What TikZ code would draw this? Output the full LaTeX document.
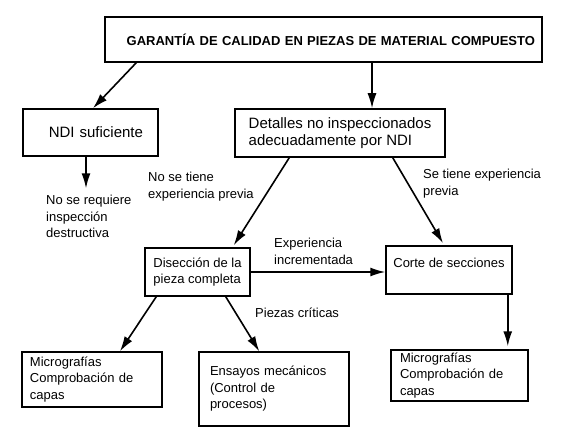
\documentclass[tikz,border=0pt]{standalone}
\usepackage{fontspec}
\setmainfont{Liberation Sans}
\usetikzlibrary{arrows.meta,positioning}

\begin{document}
\begin{tikzpicture}[x=1bp,y=-1bp,
		caja/.style={draw, line width=1.5bp, inner ysep=0pt, font=\fontsize{13bp}{16.5bp}\selectfont},
		nota/.style={inner sep=0pt, anchor=north west, align=left, font=\fontsize{13bp}{16.5bp}\selectfont},
		flecha/.style={line width=1.6bp, -{Latex[length=15bp,width=9bp]}}]
		\useasboundingbox (0,0) rectangle (567,436);
		% cajas
		\node[caja, minimum width=437bp, minimum height=45bp, align=right, text width=423bp, inner xsep=7bp, font=\bfseries\fontsize{13bp}{16bp}\selectfont] (titulo) at (323.5,39.5) {GARANTÍA DE CALIDAD EN PIEZAS DE MATERIAL COMPUESTO};
		\node[caja, minimum width=135bp, minimum height=47bp, align=right, text width=105bp, inner xsep=15bp, font=\fontsize{15bp}{17bp}\selectfont] (ndi) at (90.5,132.5) {NDI suficiente};
		\node[caja, minimum width=210bp, minimum height=48bp, align=left, font=\fontsize{15bp}{17bp}\selectfont] (detalles) at (340,133) {Detalles no inspeccionados\\adecuadamente por NDI};
		\node[caja, minimum width=105bp, minimum height=48bp, align=left] (disec) at (197.5,272) {Disección de la\\pieza completa};
		\node[caja, minimum width=126bp, minimum height=48bp, text depth=15bp] (corte) at (449,270) {Corte de secciones};
		\node[caja, minimum width=140bp, minimum height=55bp, align=left, text width=124bp, inner xsep=8bp] (micro1) at (92,379.5) {Micrografías\\Comprobación de\\capas};
		\node[caja, minimum width=150bp, minimum height=74bp, align=left, text width=128bp, inner xsep=11bp] (ensayos) at (274,389) {Ensayos mecánicos\\(Control de\\procesos)};
		\node[caja, minimum width=137bp, minimum height=51bp, align=left, text width=119bp, inner xsep=9bp] (micro2) at (459.5,375.5) {Micrografías\\Comprobación de\\capas};
		% textos sueltos
		\node[nota] (req) at (46,195.3) {No se requiere\\inspección\\destructiva};
		\node[nota] (sinexp) at (148,172.3) {No se tiene\\experiencia previa};
		\node[nota] (conexp) at (423,169.3) {Se tiene experiencia\\previa};
		\node[nota] (expinc) at (274,238.3) {Experiencia\\incrementada};
		\node[nota] (criticas) at (255,307.3) {Piezas críticas};
		% flechas
		\draw[flecha] ([xshift=32bp]titulo.south west) -- ([xshift=2.5bp]ndi.north);
		\draw[flecha] ([xshift=48.5bp]titulo.south) -- ([xshift=48.5bp]titulo.south |- detalles.north);
		\draw[flecha] ([xshift=-4.5bp]ndi.south) -- ([xshift=-4.5bp,yshift=7bp]ndi.south |- req.north);
		\draw[flecha] ([xshift=55bp]detalles.south west) -- ([xshift=-17bp,yshift=2bp]disec.north east);
		\draw[flecha] ([xshift=-53bp]detalles.south east) -- ([xshift=-6bp,yshift=2bp]corte.north);
		\draw[flecha] (disec.east) -- (disec.east -| corte.west);
		\draw[flecha] ([xshift=12bp]disec.south west) -- ([xshift=28bp]micro1.north);
		\draw[flecha] ([xshift=-25bp]disec.south east) -- ([xshift=61bp]ensayos.north west);
		\draw[flecha] ([xshift=-5bp]corte.south east) -- ([xshift=-5bp,yshift=3bp]corte.south east |- micro2.north);
\end{tikzpicture}
\end{document}
